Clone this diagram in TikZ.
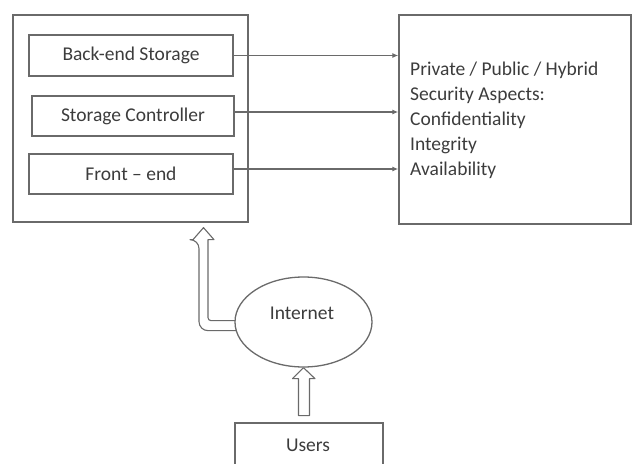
\documentclass[tikz,border=0pt]{standalone}
\usepackage{fontspec}
\setmainfont{Carlito}
\usetikzlibrary{shapes.geometric,calc,arrows.meta}
\definecolor{edge}{HTML}{6A6A6A}
\definecolor{ink}{HTML}{3C3C3C}
\begin{document}
\begin{tikzpicture}[x=1pt,y=-1pt,
  frame/.style={draw=edge,line width=1.3pt,rectangle,inner sep=0pt},
  part/.style={frame,font=\fontsize{19.5}{22}\selectfont,text=ink},
  label/.style={font=\fontsize{19.5}{22}\selectfont,text=ink,inner sep=0pt},
  link/.style={draw=edge,line width=1.3pt,-{Latex[length=6pt,width=5pt]}},
  hollow/.style={draw=edge,line width=1.1pt,fill=white,line join=round}]
\useasboundingbox (0,0) rectangle (633,464);
\clip (0,0) rectangle (633,464);

% storage system and its layers
\node[frame,minimum width=235,minimum height=207] (outer) at (130.5,118.5) {};
\node[part,minimum width=204,minimum height=41] (back) at (131,55.5) {Back-end Storage};
\node[part,minimum width=202,minimum height=40] (ctrl) at (133,116) {Storage Controller};
\node[part,minimum width=204,minimum height=40] (front) at (131,174) {Front -- end};

% deployment models and security aspects
\node[frame,minimum width=232,minimum height=209] (cloud) at (515,119.5) {};
\node[label,align=left,anchor=base west,font=\fontsize{19.5}{25}\selectfont] (aspects) at (410,175)
  {Private / Public / Hybrid\\Security Aspects:\\Confidentiality\\Integrity\\Availability};

\draw[link] (back.east) -- (back.east -| cloud.west);
\draw[link] ($(ctrl.east)+(0,-4)$) -- ($(ctrl.east -| cloud.west)+(0,-4)$);
\draw[link] ($(front.east)+(0,-5)$) -- ($(front.east -| cloud.west)+(0,-5)$);

% users reach the storage through the internet
\coordinate (tipA) at ($(outer.south)+(73,5)$);
\draw[hollow] (tipA) -- ++(10.5,12) -- ++(-6,0)
  [rounded corners=3pt] -- ++(0,81) -- ++(32,0)
  [sharp corners] -- ++(0,10)
  [rounded corners=9pt] -- ++(-41,0) -- ++(0,-91)
  [sharp corners] -- ++(-6,0) -- cycle;

\node[draw=edge,line width=1.3pt,fill=white,ellipse,minimum width=137,minimum height=90,inner sep=0pt] (inet) at (303.5,322) {};
\node[label] (inettext) at ($(inet.center)+(-1.5,-9)$) {Internet};

\draw[hollow] (inet.south) -- ++(11.5,11) -- ++(-5.5,0) -- ++(0,37)
  -- ++(-11,0) -- ++(0,-37) -- ++(-6,0) -- cycle;

\node[frame,minimum width=148,minimum height=60] (users) at (309,453) {};
\node[label] (userstext) at (308,445) {Users};
\end{tikzpicture}
\end{document}
